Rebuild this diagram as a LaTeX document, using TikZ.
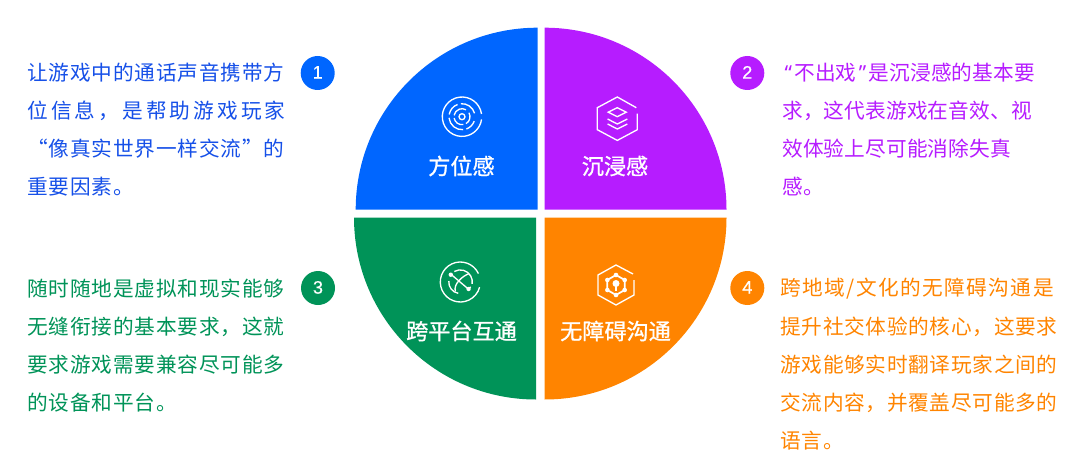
\documentclass[tikz,border=0pt]{standalone}
\usepackage{fontspec}
\newfontfamily\cjk{Noto Sans CJK SC}
\newfontfamily\cjkA[LetterSpace=4]{Noto Sans CJK SC}
\newfontfamily\cjkB[LetterSpace=0.7]{Noto Sans CJK SC}
\newfontfamily\cjkC[LetterSpace=15]{Noto Sans CJK SC}
\newfontfamily\cjkD[LetterSpace=3.5]{Noto Sans CJK SC}
\newfontfamily\cjkE[LetterSpace=7]{Noto Sans CJK SC}
\newfontfamily\numf{Liberation Sans}
\newfontfamily\quotef{Noto Sans}
\newcommand{\narrowq}[1]{\makebox[9pt][c]{\quotef #1}}
\definecolor{cblue}{HTML}{0066FF}
\definecolor{cpurple}{HTML}{B61CFF}
\definecolor{cgreen}{HTML}{009358}
\definecolor{corange}{HTML}{FF8400}
\definecolor{tblue}{HTML}{1650E8}
\tikzset{
  bodyline/.style={anchor=west,inner sep=0pt,font=\fontsize{15.5pt}{15.5pt}\selectfont},
  title/.style={text=white,inner sep=0pt,font=\cjk\fontsize{16.6pt}{17pt}\selectfont\addfontfeature{FakeBold=1}},
  badge/.style={circle,minimum size=25.5pt,inner sep=0pt,text=white,font=\numf\fontsize{13.5pt}{13.5pt}\selectfont\addfontfeature{FakeBold=0.6}},
  icon/.style={white,line width=1pt},
  dot/.style={white},
}
\begin{document}
\begin{tikzpicture}[x=0.75pt,y=-0.75pt]
\useasboundingbox (0,0) rectangle (1080,474);
% quadrants
\fill[cblue] (537.7,209.7) -- (355.7,209.7) arc[start angle=180,end angle=270,radius=182] -- cycle;
\fill[cpurple] (544.5,209.7) -- (544.5,27.7) arc[start angle=270,end angle=360,radius=182] -- cycle;
\fill[cgreen] (536,217.5) -- (536,399.5) arc[start angle=90,end angle=180,radius=182] -- cycle;
\fill[corange] (544.5,217.5) -- (726.5,217.5) arc[start angle=0,end angle=90,radius=182] -- cycle;
% icon 1
\begin{scope}[shift={(462,116.7)},icon]
\draw (-8:19.7) arc[start angle=-8,end angle=-352,radius=19.7];
\draw (20:13) arc[start angle=20,end angle=70,radius=13];
\draw (85:13) arc[start angle=85,end angle=175,radius=13];
\draw (190:13) arc[start angle=190,end angle=250,radius=13];
\draw (265:13) arc[start angle=265,end angle=345,radius=13];
\draw (-30:8) arc[start angle=-30,end angle=60,radius=8];
\draw (80:8) arc[start angle=80,end angle=170,radius=8];
\draw (190:8) arc[start angle=190,end angle=300,radius=8];
\draw (0,0) circle[radius=3];
\end{scope}
% icon 2
\begin{scope}[shift={(617.3,118.7)},icon,line join=miter]
\draw (19,-11) -- (0,-21.7) -- (-20,-11) -- (-20,11) -- (0,21.7) -- (20,11) -- (20,-5);
\draw (-9,-6.5) -- (0,-11) -- (9,-6.5) -- (0,-2) -- cycle;
\draw (-9.7,0.3) -- (0,5.3) -- (10,0.3);
\draw (-9.7,5.3) -- (0,10.3) -- (10,5.3);
\end{scope}
% icon 3
\begin{scope}[shift={(460.3,282)},icon]
\draw (-25:20) arc[start angle=-25,end angle=-345,radius=20];
\draw (-6,-10.5) arc[start angle=240,end angle=370,radius=12];
\draw (10.5,5) -- (9,6);
\draw (-11.5,-1) arc[start angle=185,end angle=100,radius=11.5];
\draw (-8.5,-7) -- (8,7);
\draw (-5,9.5) .. controls (-7,2) and (2,-6) .. (9,-8.5);
\fill[dot] (-9.5,-7.3) circle[radius=2.2];
\fill[dot] (8.3,7) circle[radius=2.2];
\end{scope}
% icon 4
\begin{scope}[shift={(616,285)},icon]
\draw (17,-11) -- (0,-20) -- (-18,-10) -- (-18,10) -- (0,20) -- (18,10) -- (18,-5);
\draw[line width=1.3pt] (0,-10) -- (8.7,-5) -- (8.7,5) -- (0,10) -- (-8.7,5) -- (-8.7,-5) -- cycle;
\foreach \a in {30,90,150,210,270,330} \fill[dot] (\a:10) circle[radius=2.3];
\fill[dot] (0,-1.5) circle[radius=3.5];
\fill[dot] (-1.2,0) rectangle (1.2,6);
\end{scope}
% titles
\node[title] (t1) at (461.5,166) {方位感};
\node[title] (t2) at (615,166) {沉浸感};
\node[title] (t3) at (461.5,331) {跨平台互通};
\node[title] (t4) at (615.5,331) {无障碍沟通};
% badges
\node[badge,fill=cblue] (b1) at (317.7,73) {\raisebox{1pt}{1}};
\node[badge,fill=cpurple] (b2) at (747.3,73) {\raisebox{1pt}{2}};
\node[badge,fill=cgreen] (b3) at (318,288) {\raisebox{1pt}{3}};
\node[badge,fill=corange] (b4) at (747.3,288) {\raisebox{1pt}{4}};
% blue text
\begin{scope}[every node/.append style={bodyline,text=tblue}]
\node (l11) at (27,72.5) {\cjkA 让游戏中的通话声音携带方};
\node (l12) at (27,110.5) {\cjkC 位信息，是帮助游戏玩家};
\node (l13) at (27,148.5) {\cjkA “像真实世界一样交流”的};
\node (l14) at (27,187) {\cjkA 重要因素。};
\end{scope}
% purple text
\begin{scope}[every node/.append style={bodyline,text=cpurple}]
\node (l21) at (782,72.5) {\narrowq{“}\cjkB 不出戏\narrowq{”}是沉浸感的基本要};
\node (l22) at (782,110.5) {\cjkB 求，这代表游戏在音效、视};
\node (l23) at (782,148.5) {\cjkB 效体验上尽可能消除失真};
\node (l24) at (782,187) {\cjkB 感。};
\end{scope}
% green text
\begin{scope}[every node/.append style={bodyline,text=cgreen}]
\node (l31) at (27,288.5) {\cjkA 随时随地是虚拟和现实能够};
\node (l32) at (27,326.5) {\cjkA 无缝衔接的基本要求，这就};
\node (l33) at (27,364.5) {\cjkA 要求游戏需要兼容尽可能多};
\node (l34) at (27,402.5) {\cjkA 的设备和平台。};
\end{scope}
% orange text
\begin{scope}[every node/.append style={bodyline,text=corange}]
\node (l41) at (780,289) {\cjkE 跨地域/文化的无障碍沟通是};
\node (l42) at (780,327) {\cjkD 提升社交体验的核心，这要求};
\node (l43) at (780,365) {\cjkD 游戏能够实时翻译玩家之间的};
\node (l44) at (780,403) {\cjkD 交流内容，并覆盖尽可能多的};
\node (l45) at (780,441) {\cjkD 语言。};
\end{scope}
\end{tikzpicture}
\end{document}
